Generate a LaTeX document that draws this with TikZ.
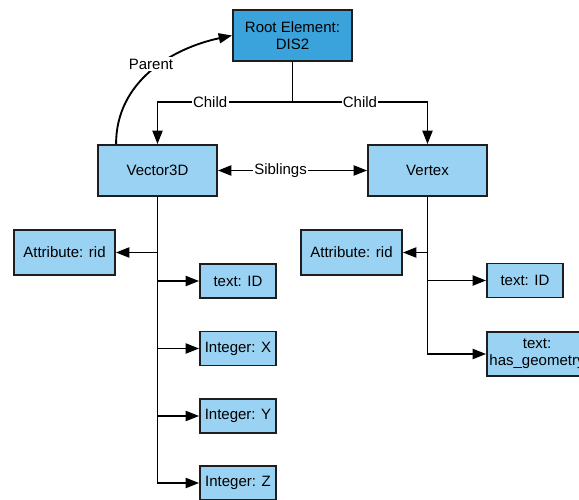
\documentclass[tikz,border=0pt]{standalone}
\usepackage{fontspec}
\setmainfont{Liberation Sans}
\usetikzlibrary{arrows.meta}
\definecolor{rootblue}{HTML}{3BA3DB}
\definecolor{lightblue}{HTML}{99D2F2}
\definecolor{edge}{HTML}{1E1E1E}
\begin{document}
\begin{tikzpicture}[x=0.75pt,y=-0.75pt,
  font=\fontsize{11.25}{13}\selectfont,
  box/.style={draw=edge,line width=1.4pt,fill=lightblue,inner sep=0pt,align=center},
  bigbox/.style={box,minimum width=89.25pt,minimum height=38.25pt},
  attrbox/.style={box,minimum width=75.75pt,minimum height=33.75pt},
  leafbox/.style={box,minimum width=57pt,minimum height=25.5pt},
  link/.style={line width=1.4pt,draw=black},
  arr/.style={link,-{Triangle[length=10pt,width=7.5pt]}},
  biarr/.style={link,{Triangle[length=10pt,width=7.5pt]}-{Triangle[length=10pt,width=7.5pt]}},
  lbl/.style={fill=white,inner sep=1pt}]
\useasboundingbox (0,0) rectangle (579,500);
\clip (0,0) rectangle (579,500);

% main elements
\node[bigbox,fill=rootblue] (root) at (292.5,35.5) {Root Element:\\DIS2};
\node[bigbox] (v3d) at (157.5,170.5) {Vector3D};
\node[bigbox] (vtx) at (427.5,170.5) {Vertex};

% children of Vector3D
\node[attrbox] (attrA) at (64.5,252.5) {Attribute: rid};
\node[leafbox] (tidA) at (238,281) {text: ID};
\node[leafbox] (intx) at (238,348.5) {Integer: X};
\node[leafbox] (inty) at (238,416) {Integer: Y};
\node[leafbox] (intz) at (238,483) {Integer: Z};

% children of Vertex
\node[attrbox] (attrB) at (351.5,252.5) {Attribute: rid};
\node[leafbox] (tidB) at (525,280.5) {text: ID};
\node[box,minimum width=75pt,minimum height=33pt] (hasg) at (537,354) {text:\\has\_geometry};

% root to its children
\coordinate (cj) at (292.5,102);
\draw[link] (root.south) -- (cj);
\draw[arr] (cj) -| node[lbl,pos=0.305] {Child} (v3d.north);
\draw[arr] (cj) -| node[lbl,pos=0.25] {Child} (vtx.north);

% parent link
\draw[arr] ([xshift=14.25pt]v3d.north west) to[out=90,in=192] (root.west);
\node[lbl] (plabel) at (151,64) {Parent};

% siblings
\draw[biarr] (v3d.east) -- node[lbl,pos=0.42] {Siblings} (vtx.west);

% Vector3D tree
\draw[arr] (v3d.south) |- (intz.west);
\draw[arr] (v3d.south |- attrA.east) -- (attrA.east);
\draw[arr] (v3d.south |- tidA.west) -- (tidA.west);
\draw[arr] (v3d.south |- intx.west) -- (intx.west);
\draw[arr] (v3d.south |- inty.west) -- (inty.west);

% Vertex tree
\draw[arr] (vtx.south) |- (hasg.west);
\draw[arr] (vtx.south |- attrB.east) -- (attrB.east);
\draw[arr] (vtx.south |- tidB.west) -- (tidB.west);
\end{tikzpicture}
\end{document}
